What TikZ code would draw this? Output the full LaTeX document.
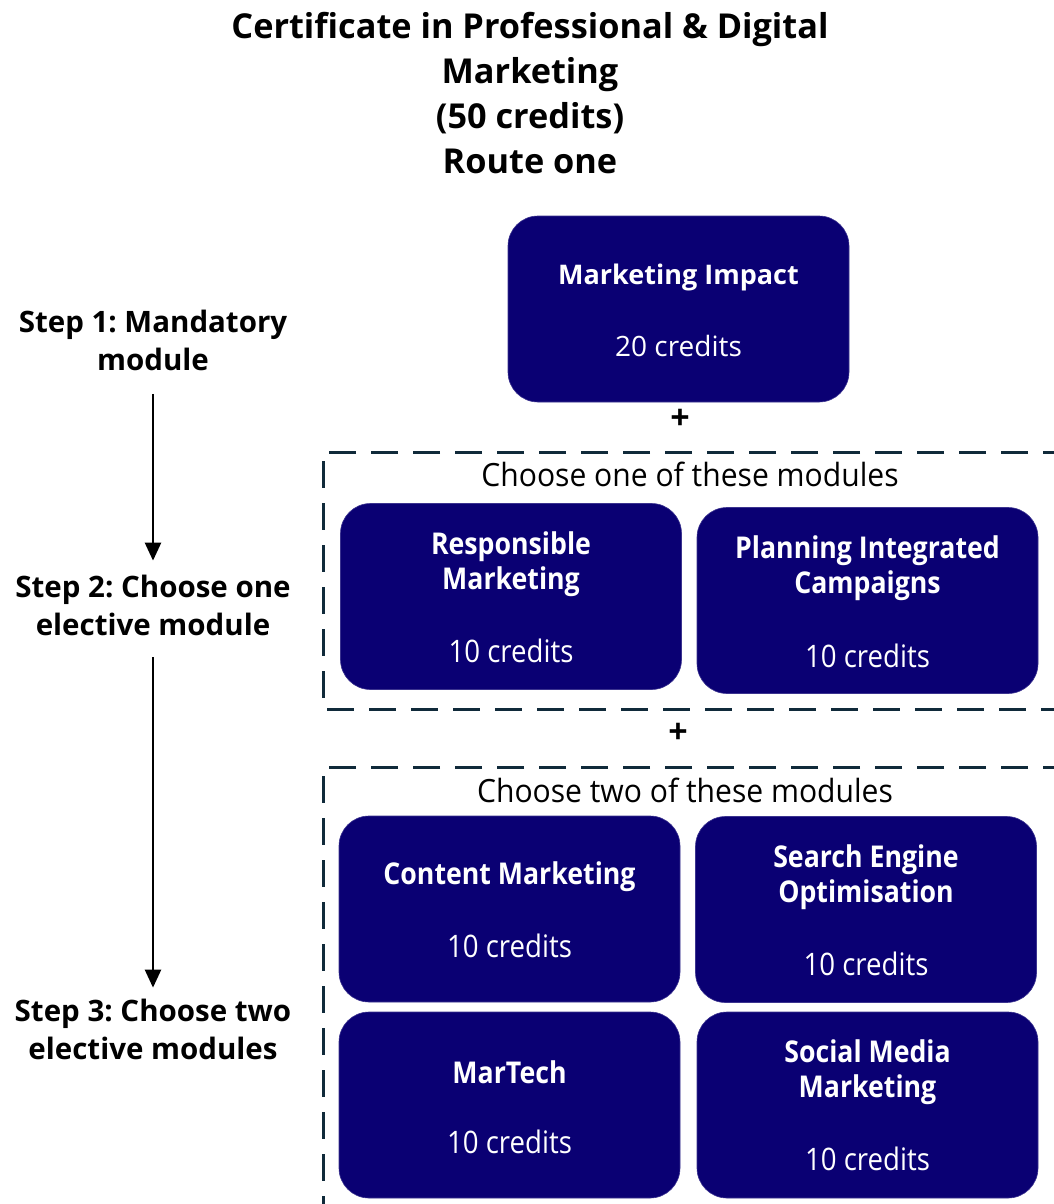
\documentclass[tikz,border=0pt]{standalone}
\usepackage{fontspec}
\setmainfont{Open Sans}
\newfontfamily\narrowfont[FakeStretch=0.89]{Open Sans}
\newfontfamily\narrowfontb[FakeStretch=0.94]{Open Sans}
\usetikzlibrary{arrows.meta}
\definecolor{navy}{RGB}{10,0,115}
\definecolor{dashc}{RGB}{16,42,58}
\frenchspacing
\begin{document}
\begin{tikzpicture}[x=1pt,y=-1pt,
  modbox/.style={fill=navy,draw=navy!80!white,line width=0.6pt,rounded corners=30pt,minimum width=341pt,minimum height=186pt,inner sep=0pt},
  modtitle/.style={text=white,font=\narrowfont\bfseries\fontsize{30}{35}\selectfont,align=center},
  modcred/.style={text=white,font=\narrowfont\fontsize{31}{35}\selectfont},
  choosebox/.style={draw=dashc,line width=3pt,dash pattern=on 27pt off 15pt},
  chooselab/.style={font=\narrowfontb\fontsize{32}{34}\selectfont},
  steplab/.style={font=\bfseries\fontsize{29.5}{38}\selectfont,align=center},
  plus/.style={font=\bfseries\fontsize{34}{34}\selectfont},
  steparrow/.style={line width=2.5pt,-{Triangle[width=16pt,length=18pt]}}]
\useasboundingbox (0,0) rectangle (1053,1204);
% title
\node[font=\bfseries\fontsize{34.3}{45}\selectfont,align=center] (title) at (530,93)
  {Certificate in Professional \& Digital\\Marketing\\(50 credits)\\Route one};
% mandatory module
\node[modbox] (mi) at (678.5,309) {};
\node[text=white,font=\bfseries\fontsize{27}{30}\selectfont] (mit) at (678.5,277) {Marketing Impact};
\node[text=white,font=\fontsize{28}{30}\selectfont] (mic) at (678.5,346) {20 credits};
\node[plus] (p1) at (680,419) {+};
% dashed box 1
\draw[choosebox] (1070,452) -- (323,452) -- (323,709) -- (1070,709);
\node[chooselab] (c1) at (690,474) {Choose one of these modules};
\node[modbox] (rm) at (511,596.5) {};
\node[modtitle] at (511,564.5) {Responsible\\Marketing};
\node[modcred] at (511,651) {10 credits};
\node[modbox] (pic) at (867.5,600.5) {};
\node[modtitle] at (867.5,568.5) {Planning Integrated\\Campaigns};
\node[modcred] at (867.5,656) {10 credits};
\node[plus] (p2) at (678,733) {+};
% dashed box 2
\draw[choosebox] (1070,767) -- (323,767) -- (323,1220);
\node[chooselab] (c2) at (685,790) {Choose two of these modules};
\node[modbox] (cm) at (509.5,909) {};
\node[modtitle] at (509.5,877) {Content Marketing};
\node[modcred] at (509.5,946) {10 credits};
\node[modbox] (seo) at (866,909.5) {};
\node[modtitle] at (866,877.5) {Search Engine\\Optimisation};
\node[modcred] at (866,964) {10 credits};
\node[modbox] (mt) at (509.5,1105) {};
\node[modtitle] at (509.5,1072) {MarTech};
\node[modcred] at (509.5,1142) {10 credits};
\node[modbox] (smm) at (867.5,1105) {};
\node[modtitle] at (867.5,1072.5) {Social Media\\Marketing};
\node[modcred] at (867.5,1159) {10 credits};
% steps
\node[steplab] (s1) at (153,340) {Step 1: Mandatory\\module};
\node[steplab] (s2) at (153,605.5) {Step 2: Choose one\\elective module};
\node[steplab] (s3) at (153,1029.5) {Step 3: Choose two\\elective modules};
\draw[steparrow,shorten <=20pt,shorten >=11pt] (s1) -- (s2);
\draw[steparrow,shorten <=18pt,shorten >=8pt] (s2) -- (s3);
\end{tikzpicture}
\end{document}
